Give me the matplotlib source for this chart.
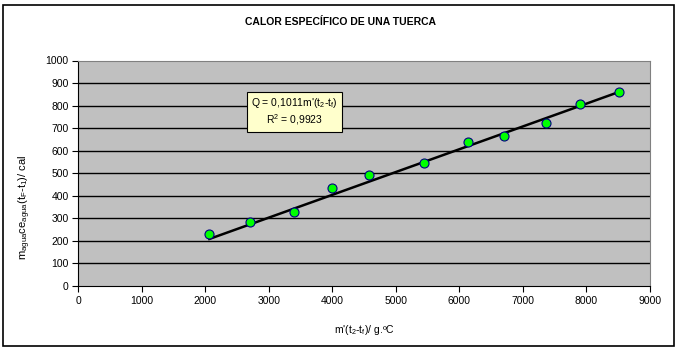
import matplotlib
matplotlib.use('Agg')
import matplotlib.pyplot as plt
from matplotlib.patches import Rectangle

# data
x_vals = [2063, 2703, 3396, 3989, 4581, 5447, 6135, 6707, 7363, 7894, 8507]
y_vals = [231, 285, 329, 433, 492, 544, 640, 665, 721, 806, 862]
slope = 0.1011
r2 = 0.9923
x_ticks = [0, 1000, 2000, 3000, 4000, 5000, 6000, 7000, 8000, 9000]
y_ticks = [0, 100, 200, 300, 400, 500, 600, 700, 800, 900, 1000]

plt.rcParams['font.family'] = ['Liberation Sans', 'DejaVu Sans']
plt.rcParams['mathtext.fontset'] = 'custom'
plt.rcParams['mathtext.rm'] = 'Liberation Sans'
plt.rcParams['mathtext.it'] = 'Liberation Sans'

fig = plt.figure(figsize=(6.81, 3.52), dpi=100)
fig.patches.append(Rectangle((3 / 681, 6 / 352), 671 / 681, 341 / 352, transform=fig.transFigure,
                             fill=False, edgecolor='black', linewidth=1.2))

ax = fig.add_axes([78.3 / 681, 66 / 352, 571.7 / 681, 225.5 / 352])
ax.set_facecolor('#C0C0C0')

for y in y_ticks[1:-1]:
    ax.axhline(y, color='black', linewidth=1.0, zorder=1)

# trend line Q = slope * x
xl = [min(x_vals), max(x_vals)]
ax.plot(xl, [slope * v for v in xl], color='black', linewidth=1.8, zorder=2)
ax.plot(x_vals, y_vals, 'o', markersize=6.5, markerfacecolor='#00FF00',
        markeredgecolor='#000080', markeredgewidth=0.8, zorder=3)

ax.set_xlim(0, 9000)
ax.set_ylim(0, 1000)
ax.set_xticks(x_ticks)
ax.set_yticks(y_ticks)
ax.tick_params(labelsize=7.5, length=4, width=0.8, direction='out', pad=3)
for s in ['top', 'right']:
    ax.spines[s].set_color('#808080')
for s in ['left', 'bottom']:
    ax.spines[s].set_color('black')

ax.set_xlabel("m'(t$_2$-t$_f$)/ g.ºC", fontsize=7.5)
ax.xaxis.set_label_coords(0.5, -0.165)
ax.set_ylabel("m$_{agua}$ce$_{agua}$(t$_F$-t$_1$)/ cal", fontsize=8)
ax.yaxis.set_label_coords(-0.079, 0.35)

ax.text(3404, 772, "Q = 0,1011m'(t$_2$-t$_f$)\nR$^2$ = 0,9923", fontsize=7.5,
        ha='center', va='center', linespacing=1.2,
        bbox=dict(boxstyle='square,pad=0.4', facecolor='#FFFFCC', edgecolor='black', linewidth=0.8))

fig.text(0.5, 1 - 22 / 352, 'CALOR ESPECÍFICO DE UNA TUERCA', ha='center', va='center',
         fontsize=7.5, fontweight='bold')

fig.savefig('out.png', dpi=100)
